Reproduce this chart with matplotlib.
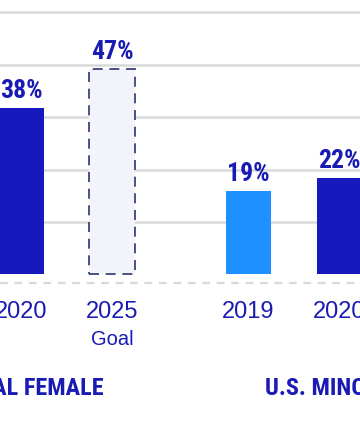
import matplotlib
matplotlib.use('Agg')
import matplotlib.pyplot as plt

# dados
anos = ['2019', '2020', '2025', '2019', '2020']
sub = ['', '', 'Goal', '', '']
valores = [30, 38, 47, 19, 22]
tipos = ['old', 'now', 'goal', 'old', 'now']
grupos = ['GLOBAL FEMALE', 'U.S. MINORITIES']
posicoes = [0, 1, 2, 3.5, 4.5]
centros_grupo = [1, 4.59]
grade = [12, 24, 36, 48, 60]

azul = '#1519BE'
claro = '#1E90FF'
texto = '#1A1AB4'
fonte_forte = ['Roboto Condensed', 'Barlow Condensed', 'DejaVu Sans']
fonte_normal = ['Liberation Sans', 'DejaVu Sans']

fig = plt.figure(figsize=(3.6, 4.3), dpi=100)
ax = fig.add_axes([0, 0, 1, 1])
ax.set_xlim(0.769, 4.725)
ax.set_ylim(-35.6, 62.8)
ax.axis('off')

for g in grade:
    ax.axhline(g, color='#d9d9d9', lw=1.8, zorder=0)
ax.axhline(-2, color='#d9d9d9', lw=1.6, ls=(0, (3.5, 3)), zorder=0)

for x, v, t in zip(posicoes, valores, tipos):
    if t == 'goal':
        ax.bar(x, v, width=0.5, color='#f3f4fb', edgecolor='#2d3470',
               lw=1.2, ls=(0, (6, 4)), zorder=2)
    else:
        ax.bar(x, v, width=0.5, color=claro if t == 'old' else azul, zorder=2)
    ax.text(x, v + 2.3, f'{v}%', ha='center', va='baseline', color=texto,
            fontsize=18.5, fontweight=900, family=fonte_forte)

for x, a, s in zip(posicoes, anos, sub):
    ax.text(x, -8.6, a, ha='center', va='center', color=texto, fontsize=17,
            family=fonte_normal)
    if s:
        ax.text(x, -14.8, s, ha='center', va='center', color=texto, fontsize=14.5,
                family=fonte_normal)

for c, g in zip(centros_grupo, grupos):
    ax.text(c, -26.2, g, ha='center', va='center', color=texto, fontsize=17.5,
            fontweight=900, family=fonte_forte)

fig.savefig('out.png', dpi=100)
